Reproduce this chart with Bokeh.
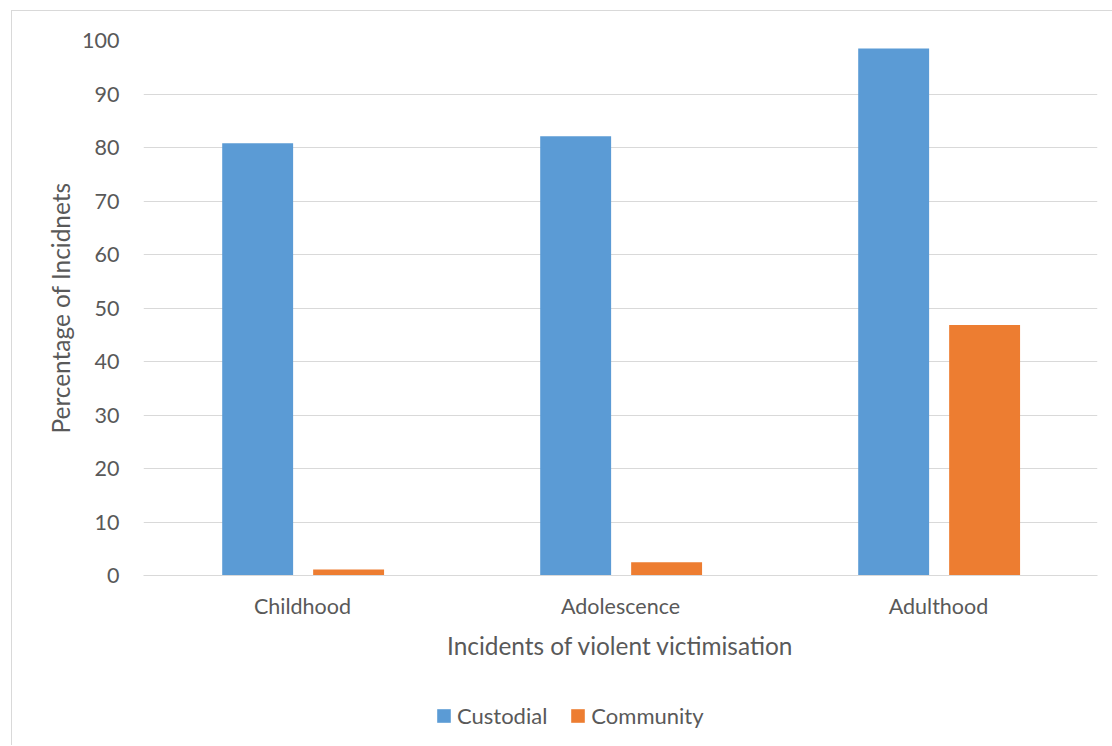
from bokeh.plotting import figure
from bokeh.layouts import column
from bokeh.models import (FactorRange, Range1d, Legend, LegendItem,
                          ColumnDataSource, FixedTicker)
from bokeh.transform import dodge
from bokeh.embed import file_html
from bokeh.resources import INLINE

# Share of respondents reporting violent victimisation, by life stage
categories = ["Childhood", "Adolescence", "Adulthood"]
series_names = ["Custodial", "Community"]
custodial = [80.8, 82.1, 98.5]
community = [1.1, 2.5, 46.8]
y_ticks = [0, 10, 20, 30, 40, 50, 60, 70, 80, 90, 100]

FONT = "Lato"
TEXT = "#595959"
GRID = "#d9d9d9"
BLUE = "#5b9bd5"
ORANGE = "#ed7d31"

source = ColumnDataSource(dict(cat=categories, custodial=custodial, community=community))
x_range = FactorRange(*categories)

p = figure(width=1100, height=664,
           x_range=x_range, y_range=Range1d(0, 100),
           output_backend="svg", toolbar_location=None,
           min_border_left=131, min_border_right=15,
           min_border_top=29, min_border_bottom=100)
p.background_fill_color = "white"
p.border_fill_color = "white"
p.outline_line_color = None

bar_w = 0.223
offsets = [-0.141, 0.145]
colors = [BLUE, ORANGE]
fields = ["custodial", "community"]
for f, off, c in zip(fields, offsets, colors):
    p.vbar(x=dodge("cat", off, range=x_range), top=f, width=bar_w,
           source=source, fill_color=c, line_color=None)

# axes
p.yaxis.ticker = FixedTicker(ticks=y_ticks)
p.yaxis.axis_line_color = None
p.yaxis.major_tick_line_color = None
p.yaxis.minor_tick_line_color = None
p.yaxis.major_label_standoff = 18
p.yaxis.axis_label = "Percentage of Incidnets"
p.yaxis.axis_label_standoff = 4

p.xaxis.axis_line_color = GRID
p.xaxis.major_tick_line_color = None
p.xaxis.minor_tick_line_color = None
p.xaxis.major_label_standoff = 11
p.xaxis.axis_label = "Incidents of violent victimisation"
p.xaxis.axis_label_standoff = 9

for ax in (p.xaxis, p.yaxis):
    ax.major_label_text_font = FONT
    ax.major_label_text_font_size = "21.5px"
    ax.major_label_text_color = TEXT
    ax.axis_label_text_font = FONT
    ax.axis_label_text_font_size = "24.4px"
    ax.axis_label_text_font_style = "normal"
    ax.axis_label_text_color = TEXT

p.xgrid.grid_line_color = None
p.ygrid.grid_line_color = GRID
p.ygrid.grid_line_width = 1

# legend strip under the chart; its bars sit above the strip's visible y-range,
# so only the legend swatches show
lg = figure(width=1100, height=70, x_range=x_range, y_range=Range1d(500, 600),
            output_backend="svg", toolbar_location=None,
            x_axis_location=None, y_axis_location=None,
            min_border_left=0, min_border_right=0, min_border_top=0, min_border_bottom=0)
lg.grid.visible = False
lg.outline_line_color = None
lg.background_fill_color = "white"
lg.border_fill_color = "white"

swatches = [lg.vbar(x=dodge("cat", off, range=x_range), top=f, width=bar_w,
                    source=source, fill_color=c, line_color=None)
            for f, off, c in zip(fields, offsets, colors)]
legend = Legend(items=[LegendItem(label=n, renderers=[r])
                       for n, r in zip(series_names, swatches)],
                orientation="horizontal", location=(292, 16))
legend.glyph_width = 17
legend.glyph_height = 17
legend.label_standoff = 5
legend.spacing = 22
legend.padding = 0
legend.margin = 0
legend.border_line_color = None
legend.background_fill_alpha = 0
legend.label_text_font = FONT
legend.label_text_font_size = "22px"
legend.label_text_color = TEXT
lg.add_layout(legend, "center")

layout = column(p, lg, spacing=0)
# chart area frame: light border on the left and top edges
layout.styles = {"margin-left": "11px", "margin-top": "10px",
                 "border-left": "1px solid #d9d9d9", "border-top": "1px solid #d9d9d9"}

open("out.html", "w").write(file_html(layout, INLINE))
